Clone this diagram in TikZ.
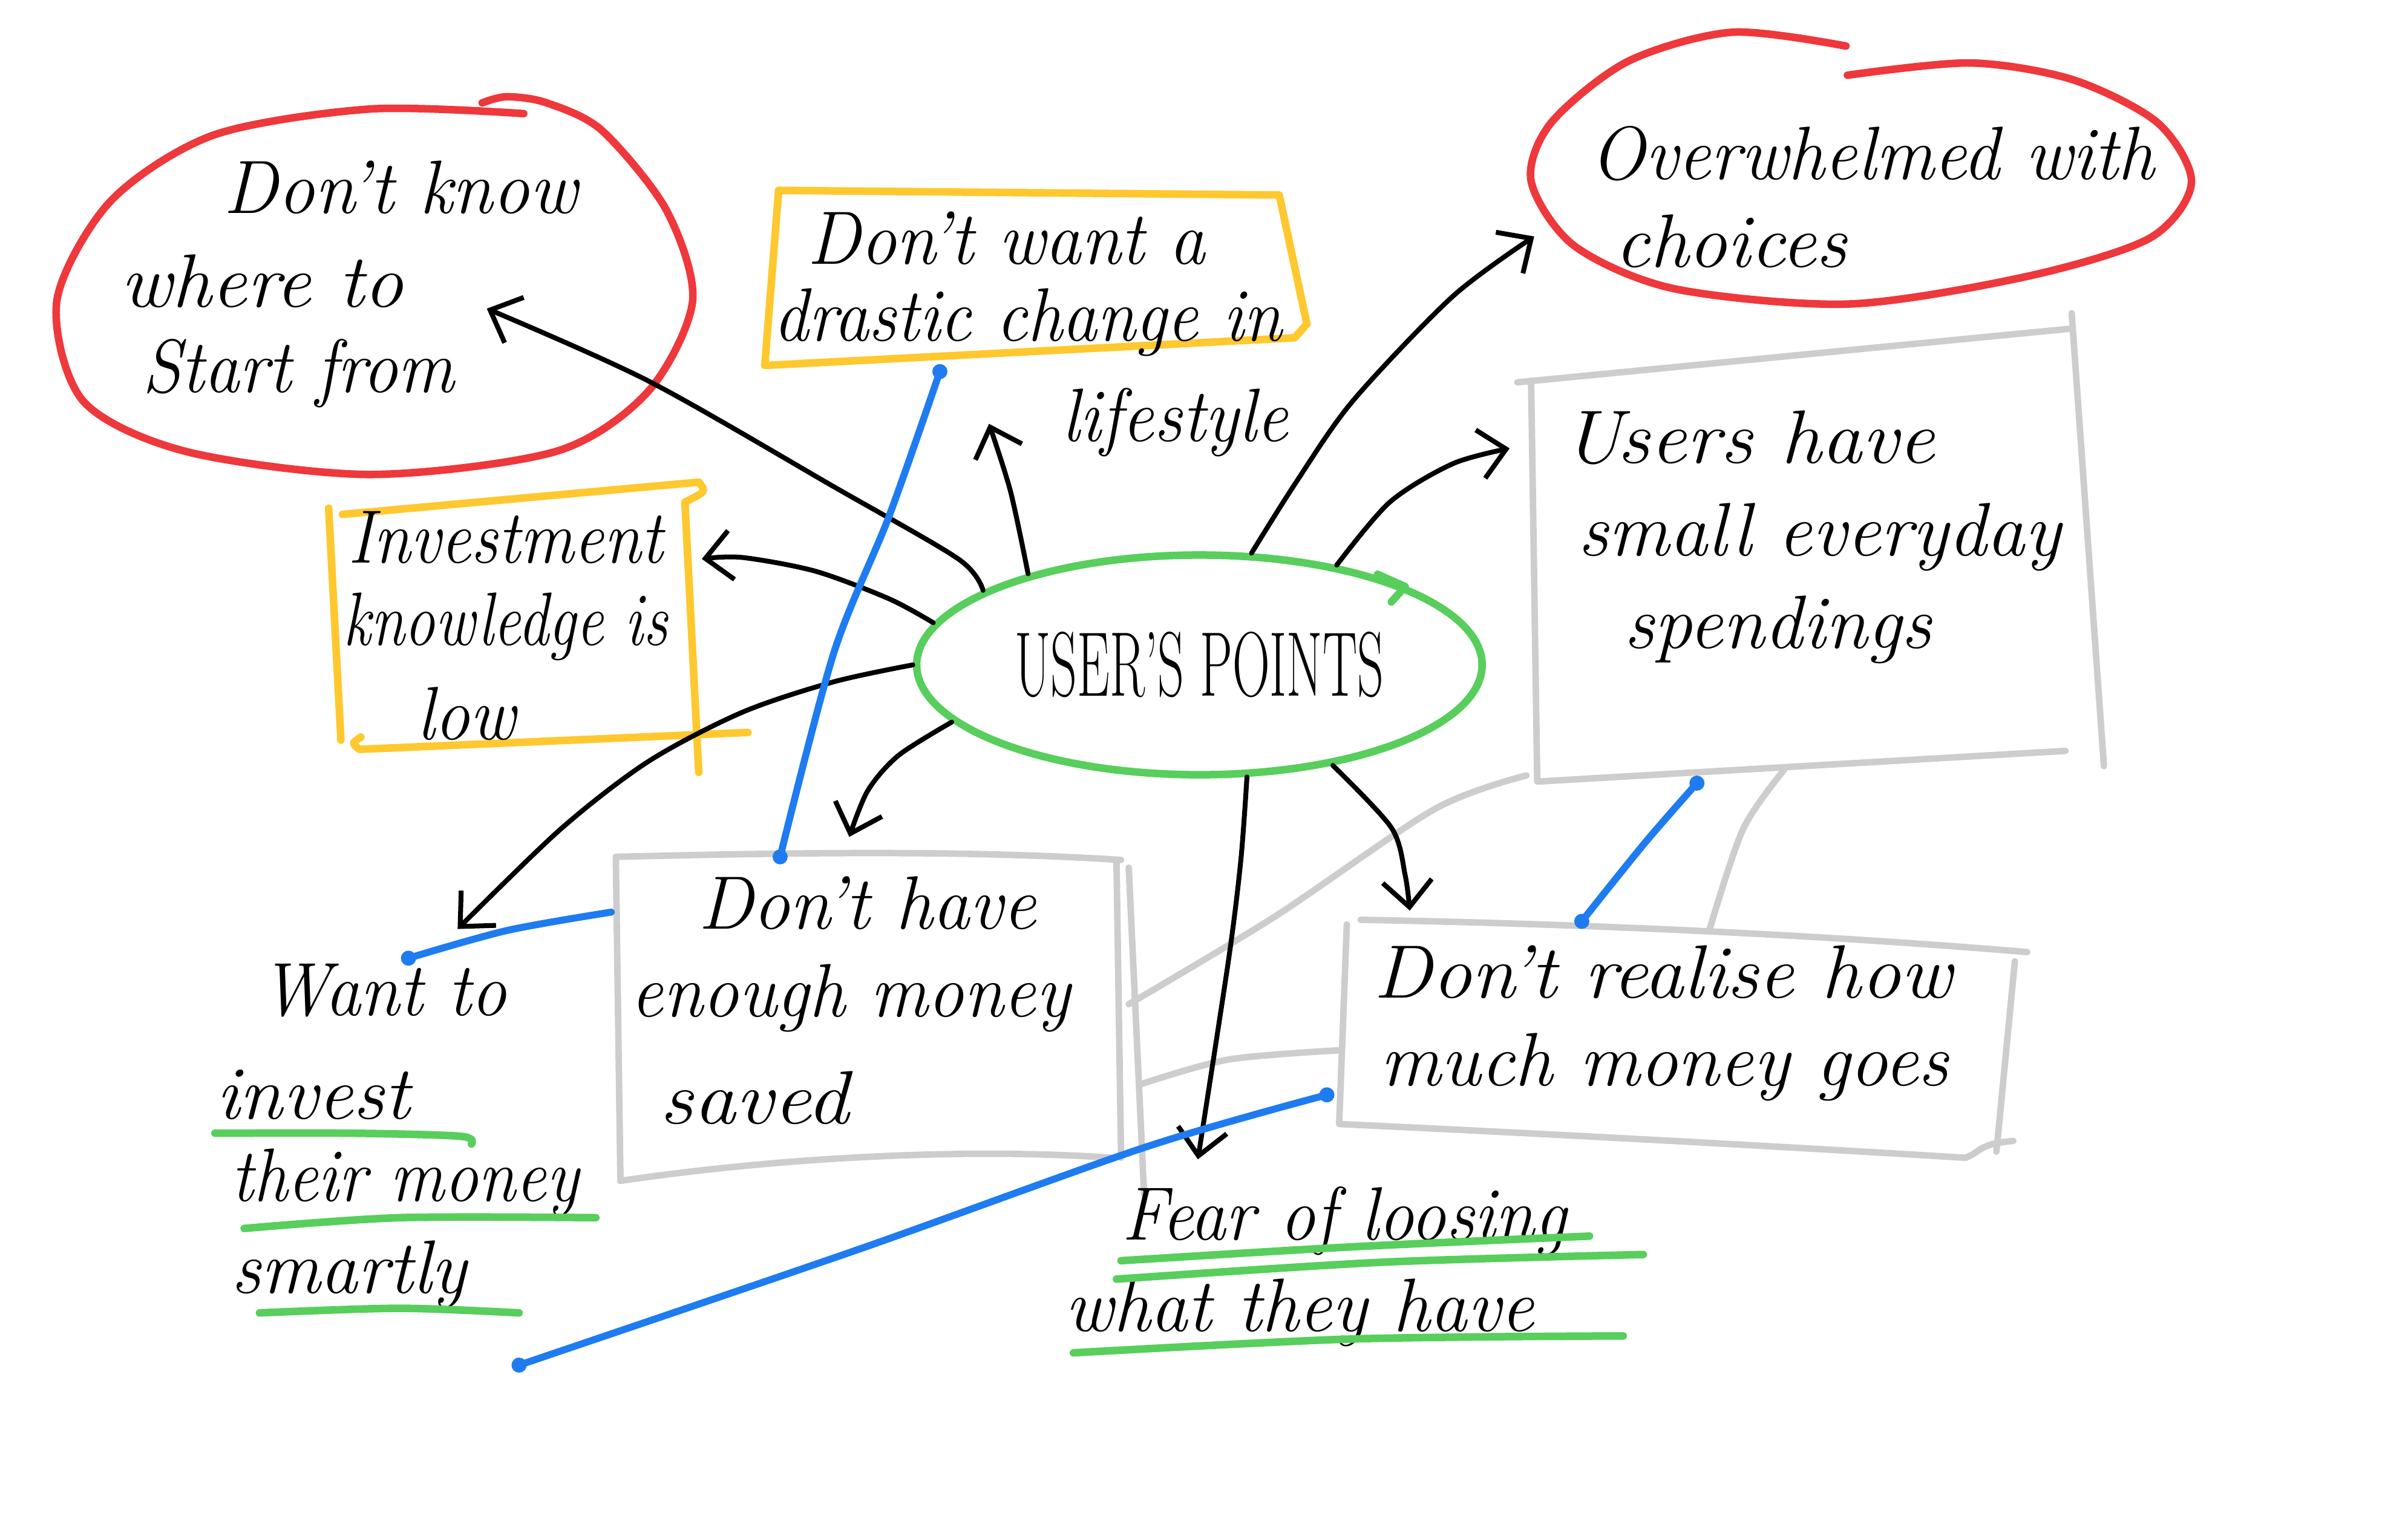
\documentclass[tikz,border=0pt]{standalone}
\usepackage{graphicx}
\usetikzlibrary{arrows.meta,shapes.geometric}
\definecolor{hred}{RGB}{238,56,60}
\definecolor{hyellow}{RGB}{255,200,46}
\definecolor{hgreen}{RGB}{88,206,92}
\definecolor{hblue}{RGB}{30,124,240}
\definecolor{hgray}{RGB}{205,205,205}
\newcommand\fw[2]{\resizebox{#1}{\height}{#2}}
\begin{document}
\begin{tikzpicture}[x=0.01cm,y=-0.01cm,
  hand/.style={line cap=round,line join=round},
  ink/.style={hand,draw=black,line width=0.9pt,-{Straight Barb[length=1.7mm,width=3.2mm,line width=0.9pt]}},
  redline/.style={hand,draw=hred,line width=1.4pt},
  yelline/.style={hand,draw=hyellow,line width=1.4pt},
  greenline/.style={hand,draw=hgreen,line width=1.4pt},
  blueline/.style={hand,draw=hblue,line width=1.3pt},
  grayline/.style={hand,draw=hgray,line width=1.2pt},
  bluedot/.style={fill=hblue,circle,inner sep=0pt,minimum size=2.8pt},
  txt/.style={anchor=west,inner sep=0pt,font=\fontsize{14}{17}\selectfont\itshape},
  center/.style={ellipse,draw=hgreen,line width=1.4pt,minimum width=3.68cm,minimum height=1.43cm,inner sep=0pt},
]
\useasboundingbox (0,0) rectangle (1568,998);

% ---------- shapes ----------
% red ellipse: Don't know where to start from
\draw[redline] plot[smooth] coordinates {(341,74) (241,71) (139,88) (72,131) (37,196) (54,261) (121,294) (241,309) (362,294) (422,255) (451,196) (434,137) (392,85) (356,67) (330,63) (314,67)};
% red ellipse: Overwhelmed with choices
\draw[redline] plot[smooth] coordinates {(1202,30) (1128,21) (1060,40) (1010,80) (997,118) (1025,160) (1090,188) (1204,198) (1320,180) (1400,155) (1427,119) (1405,80) (1350,52) (1283,41) (1203,49)};
% yellow box top
\draw[yelline] (507,124) -- (833,127) -- (851,211) -- (843,220) -- (498,238) -- (507,124);
% yellow box left
\draw[yelline] (223,335) -- (455,314) .. controls (460,320) .. (446,327) -- (455,503);
\draw[yelline] (214,331) -- (222,482);
\draw[yelline] (235,480) .. controls (229,484) .. (234,488) -- (487,477);
% gray box right top
\draw[grayline] (988,249) -- (1349,214);
\draw[grayline] (1349,204) -- (1370,499);
\draw[grayline] (997,248) -- (1001,509) -- (1345,489);
% gray box middle bottom
\draw[grayline] (401,558) .. controls (560,554) and (650,555) .. (730,560);
\draw[grayline] (401,558) -- (404,769) .. controls (520,752) and (640,748) .. (724,754);
\draw[grayline] (727,560) -- (730,754);
\draw[grayline] (735,565) -- (745,778);
% gray box right bottom
\draw[grayline] (886,599) .. controls (1050,602) and (1200,610) .. (1320,620);
\draw[grayline] (877,602) -- (872,732) .. controls (1000,738) and (1150,746) .. (1280,754) .. controls (1290,750) and (1288,745) .. (1311,743);
\draw[grayline] (1312,626) -- (1300,750);
% extra gray strokes
\draw[grayline] plot[smooth] coordinates {(735,654) (830,597) (934,527) (994,505)};
\draw[grayline] plot[smooth] coordinates {(743,706) (800,690) (872,684)};
\draw[grayline] plot[smooth] coordinates {(1113,606) (1135,540) (1162,501)};

% ---------- central node ----------
\node[center] (user) at (781,433) {\fontsize{17}{19}\selectfont\fw{2.40cm}{USER'S POINTS}};
\draw[greenline] (897,374) -- (915,382) -- (906,392);

% ---------- texts ----------
\node[txt] (k1) at (145,122) {\fw{2.30cm}{Don't know}};
\node[txt] (k2) at (78,183) {\fw{1.84cm}{where to}};
\node[txt] (k3) at (92,243) {\fw{2.03cm}{Start from}};

\node[txt] (d1) at (525,155) {\fw{2.59cm}{Don't want a}};
\node[txt] (d2) at (503,210) {\fw{3.31cm}{drastic change in}};
\node[txt] (d3) at (691,275) {\fw{1.47cm}{lifestyle}};

\node[txt] (o1) at (1035,100) {\fw{3.67cm}{Overwhelmed with}};
\node[txt] (o2) at (1051,157) {\fw{1.51cm}{choices}};

\node[txt] (u1) at (1017,285) {\fw{2.42cm}{Users have}};
\node[txt] (u2) at (1027,350) {\fw{3.14cm}{small everyday}};
\node[txt] (u3) at (1057,410) {\fw{2.00cm}{spendings}};

\node[txt] (i1) at (226,350) {\fw{2.05cm}{Investment}};
\node[txt] (i2) at (223,408) {\fw{2.11cm}{knowledge is}};
\node[txt] (i3) at (271,465) {\fw{0.64cm}{low}};

\node[txt] (h1) at (454,588) {\fw{2.20cm}{Don't have}};
\node[txt] (h2) at (410,650) {\fw{2.86cm}{enough money}};
\node[txt] (h3) at (429,715) {\fw{1.23cm}{saved}};

\node[txt] (r1) at (894,633) {\fw{3.76cm}{Don't realise how}};
\node[txt] (r2) at (898,695) {\fw{3.70cm}{much money goes}};

\node[txt] (w1) at (169,645) {\fw{1.60cm}{Want to}};
\node[txt] (w2) at (140,713) {\fw{1.26cm}{invest}};
\node[txt] (w3) at (150,770) {\fw{2.26cm}{their money}};
\node[txt] (w4) at (150,830) {\fw{1.53cm}{smartly}};

\node[txt] (f1) at (730,795) {\fw{2.89cm}{Fear of loosing}};
\node[txt] (f2) at (693,855) {\fw{3.05cm}{what they have}};

% ---------- green underlines ----------
\draw[greenline] plot[smooth] coordinates {(140,738) (230,738) (300,740) (307,745)};
\draw[greenline] plot[smooth] coordinates {(159,800) (260,793) (388,793)};
\draw[greenline] plot[smooth] coordinates {(169,855) (260,852) (338,855)};
\draw[greenline] plot[smooth] coordinates {(730,821) (880,812) (1035,805)};
\draw[greenline] plot[smooth] coordinates {(727,833) (900,822) (1070,817)};
\draw[greenline] plot[smooth] coordinates {(699,881) (880,872) (1057,870)};

% ---------- arrow end points ----------
\coordinate (knowtip) at (317,201);
\coordinate (uptip) at (644,276);
\coordinate (invtip) at (457,364);
\coordinate (wanttip) at (298,605);
\coordinate (havetip) at (553,545);
\coordinate (ovtip) at (999,154);
\coordinate (ustip) at (983,292);
\coordinate (feartip) at (780,755);
\coordinate (reatip) at (918,593);

% ---------- black arrows ----------
\draw[ink] plot[smooth] coordinates {(user.161) (624,364) (543,317) (422,248) (knowtip)};
\draw[ink] plot[smooth] coordinates {(user.152) (658,320) (uptip)};
\draw[ink] plot[smooth] coordinates {(user.171) (579,390) (531,372) (483,363) (invtip)};
\draw[ink] plot[smooth] coordinates {(user.180) (543,444) (483,464) (422,496) (365,540) (wanttip)};
\draw[ink] plot[smooth] coordinates {(user.193) (585,492) (565,515) (havetip)};
\draw[ink] plot[smooth] coordinates {(user.65) (844,314) (881,261) (946,193) (ovtip)};
\draw[ink] plot[smooth] coordinates {(user.36) (905,327) (946,302) (ustip)};
\draw[ink] plot[smooth] coordinates {(user.293) (808,560) (800,625) (feartip)};
\draw[ink] plot[smooth] coordinates {(user.323) (906,539) (915,570) (reatip)};

% ---------- blue links ----------
\node[bluedot] (b1a) at (612,242) {};
\node[bluedot] (b1b) at (508,558) {};
\draw[blueline] plot[smooth] coordinates {(b1a.center) (579,336) (543,425) (b1b.center)};
\coordinate (b2a) at (398,594);
\node[bluedot] (b2b) at (266,624) {};
\draw[blueline] plot[smooth] coordinates {(b2a) (330,606) (b2b.center)};
\node[bluedot] (b3a) at (864,713) {};
\node[bluedot] (b3b) at (338,889) {};
\draw[blueline] plot[smooth] coordinates {(b3a.center) (746,747) (558,814) (b3b.center)};
\node[bluedot] (b4a) at (1105,510) {};
\node[bluedot] (b4b) at (1030,600) {};
\draw[blueline] plot[smooth] coordinates {(b4a.center) (1071,549) (b4b.center)};
\end{tikzpicture}
\end{document}
